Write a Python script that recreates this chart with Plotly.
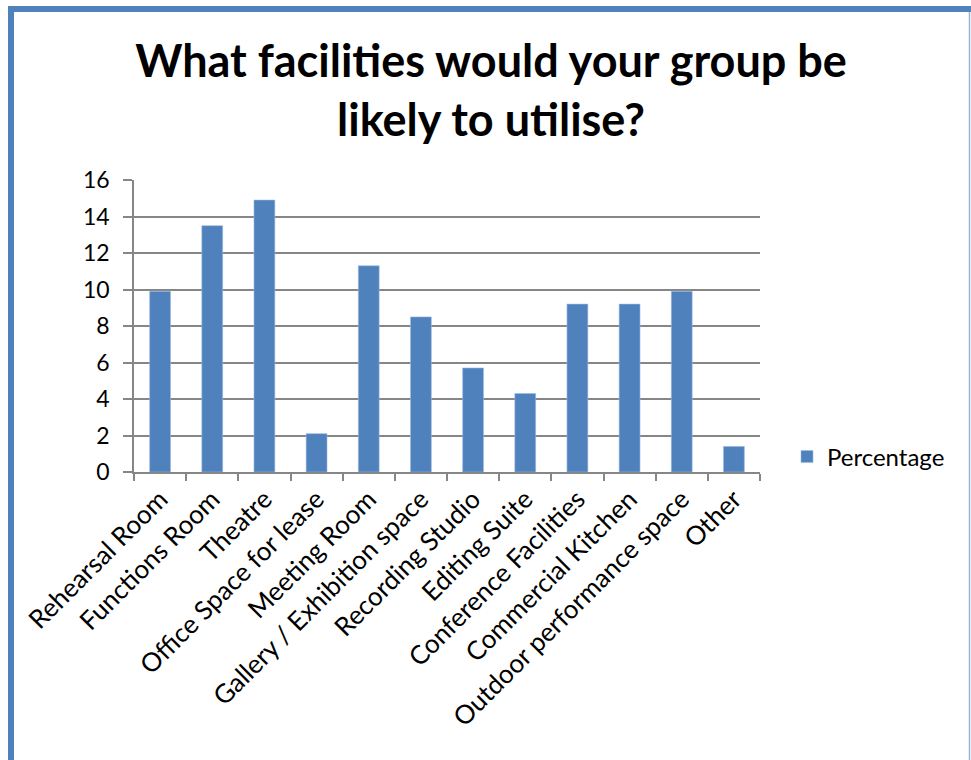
import plotly.graph_objects as go

# Survey results: share of groups likely to use each facility
facilities = [
    "Rehearsal Room", "Functions Room", "Theatre", "Office Space for lease",
    "Meeting Room", "Gallery / Exhibition space", "Recording Studio",
    "Editing Suite", "Conference Facilities", "Commercial Kitchen",
    "Outdoor performance space", "Other",
]
percentage = [9.9, 13.5, 14.9, 2.1, 11.3, 8.5, 5.7, 4.3, 9.2, 9.2, 9.9, 1.4]
y_ticks = [0, 2, 4, 6, 8, 10, 12, 14, 16]

W, H = 971, 760
L, R, T, B = 134, 211, 180, 288
pw, ph = W - L - R, H - T - B


def px_x(v):
    return (v - L) / pw


def px_y(v):
    return (H - B - v) / ph


bar_color = "#4f81bd"
grid_color = "#868686"
font_family = "Lato, 'Open Sans', sans-serif"

fig = go.Figure(
    go.Bar(
        x=facilities,
        y=percentage,
        name="Percentage",
        marker=dict(color=bar_color, line=dict(color="#9dbbe0", width=0.6)),
        showlegend=True,
    )
)

fig.update_layout(
    width=W,
    height=H,
    margin=dict(l=L, r=R, t=T, b=B, pad=0),
    paper_bgcolor="white",
    plot_bgcolor="white",
    bargap=0.6,
    font=dict(family=font_family, color="black"),
    title=dict(
        text="<b>What facilities would your group be<br>likely to utilise?</b>",
        x=491 / W,
        xref="container",
        xanchor="center",
        y=1 - 77 / H,
        yref="container",
        yanchor="middle",
        font=dict(size=45, family=font_family, color="black"),
    ),
    legend=dict(
        x=px_x(787),
        y=px_y(457),
        xanchor="left",
        yanchor="middle",
        font=dict(size=24, family=font_family),
        itemwidth=30,
        bgcolor="rgba(0,0,0,0)",
    ),
    xaxis=dict(
        type="category",
        tickangle=-45,
        tickson="boundaries",
        ticks="outside",
        ticklen=7,
        tickcolor=grid_color,
        tickwidth=1.5,
        showline=True,
        linecolor=grid_color,
        linewidth=1.5,
        showgrid=False,
        tickfont=dict(size=26, family=font_family),
    ),
    yaxis=dict(
        range=[0, 16],
        tickvals=y_ticks,
        ticks="outside",
        ticklen=9,
        tickcolor=grid_color,
        tickwidth=1.5,
        ticklabelstandoff=9,
        showline=True,
        linecolor=grid_color,
        linewidth=1.5,
        showgrid=True,
        gridcolor=grid_color,
        gridwidth=1.5,
        zeroline=False,
        tickfont=dict(size=23, family=font_family),
    ),
    shapes=[
        # chart frame: heavy blue top and left edges, thin light right edge
        dict(type="line", xref="paper", yref="paper",
             x0=px_x(8), x1=px_x(W), y0=px_y(9), y1=px_y(9),
             line=dict(color="#4f81bd", width=6)),
        dict(type="line", xref="paper", yref="paper",
             x0=px_x(11), x1=px_x(11), y0=px_y(6), y1=px_y(H),
             line=dict(color="#4f81bd", width=6)),
        dict(type="line", xref="paper", yref="paper",
             x0=px_x(969.5), x1=px_x(969.5), y0=px_y(12), y1=px_y(H),
             line=dict(color="#95b3d7", width=1.5)),
    ],
)

fig.write_html("out.html")
